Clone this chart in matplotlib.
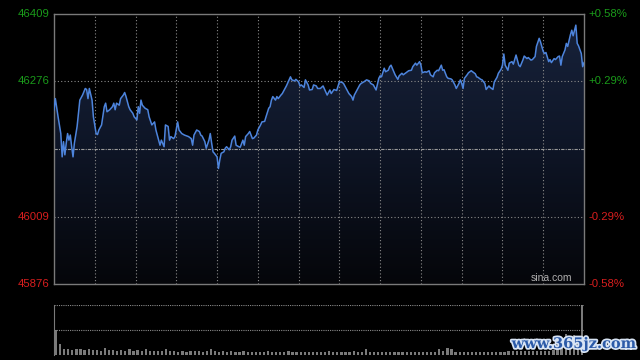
import matplotlib
matplotlib.use('Agg')
import matplotlib.pyplot as plt
import matplotlib.patheffects as pe
from matplotlib.colors import LinearSegmentedColormap
import numpy as np

# intraday index, minutes after the open
minutes = [0, 1, 3, 5, 6, 7, 8, 9, 10, 11, 12, 13, 14, 15, 17, 19, 21, 23, 24, 25,
           26, 28, 29, 31, 32, 33, 35, 37, 38, 39, 41, 43, 44, 45, 46, 48, 49, 51, 52, 53,
           55, 56, 58, 59, 61, 62, 63, 64, 65, 67, 69, 70, 72, 74, 75, 77, 78, 79, 81, 82,
           84, 85, 86, 88, 89, 91, 92, 94, 96, 99, 101, 102, 103, 105, 107, 108, 109, 111, 112, 114,
           115, 116, 117, 118, 120, 121, 122, 123, 125, 126, 127, 129, 130, 131, 133, 134, 136, 137, 139, 140,
           141, 143, 144, 146, 147, 149, 150, 152, 153, 155, 156, 158, 159, 160, 161, 163, 164, 165, 167, 168,
           170, 171, 173, 174, 175, 177, 178, 180, 181, 182, 184, 185, 187, 188, 190, 191, 193, 194, 196, 198,
           201, 203, 204, 206, 208, 210, 212, 213, 215, 217, 219, 220, 221, 223, 225, 226, 228, 230, 232, 233,
           235, 236, 237, 239, 240, 241, 243, 244, 246, 247, 248, 250, 251, 253, 254, 256, 257, 258, 260, 261,
           263, 264, 266, 267, 269, 270, 271, 273, 274, 276, 277, 279, 280, 282, 283, 285, 286, 287, 289, 290,
           292, 293, 295, 296, 298, 299, 300, 301, 302, 304, 305, 307, 308, 310, 311, 312, 314, 315, 317, 318,
           320, 321, 323, 324, 326, 327, 329, 330, 331, 332, 334, 335, 337, 338, 339, 340, 342, 343, 345, 346,
           348, 349, 351, 352, 354, 355, 357, 358, 360, 361, 362, 364, 365, 366, 368, 369, 371, 372, 373, 374,
           376, 377, 378, 380, 381, 382, 384, 385, 386, 388, 389, 390]
prices = [46220, 46242, 46206, 46173, 46127, 46157, 46131, 46154, 46173, 46160, 46170, 46147, 46127, 46154, 46187, 46239, 46249, 46262, 46260, 46242,
          46262, 46239, 46206, 46173, 46171, 46180, 46190, 46226, 46233, 46216, 46220, 46226, 46233, 46220, 46233, 46229, 46242, 46249, 46254, 46246,
          46226, 46220, 46213, 46206, 46200, 46226, 46213, 46239, 46229, 46223, 46220, 46206, 46190, 46196, 46180, 46160, 46150, 46160, 46147, 46190,
          46187, 46160, 46167, 46163, 46167, 46196, 46180, 46173, 46170, 46167, 46163, 46150, 46170, 46180, 46177, 46170, 46168, 46157, 46144, 46160,
          46173, 46154, 46137, 46134, 46127, 46104, 46121, 46134, 46137, 46144, 46147, 46141, 46147, 46160, 46168, 46150, 46147, 46146, 46160, 46150,
          46167, 46173, 46177, 46163, 46164, 46170, 46180, 46190, 46196, 46197, 46206, 46223, 46226, 46239, 46246, 46239, 46246, 46242, 46249, 46252,
          46262, 46267, 46279, 46285, 46279, 46277, 46280, 46275, 46267, 46269, 46264, 46279, 46269, 46259, 46260, 46269, 46267, 46262, 46262, 46267,
          46249, 46259, 46252, 46260, 46258, 46275, 46274, 46272, 46262, 46252, 46246, 46239, 46249, 46259, 46269, 46272, 46275, 46279, 46277, 46272,
          46269, 46264, 46259, 46282, 46287, 46285, 46302, 46295, 46298, 46305, 46308, 46295, 46289, 46280, 46287, 46292, 46289, 46291, 46295, 46297,
          46298, 46305, 46312, 46308, 46315, 46308, 46293, 46295, 46294, 46297, 46289, 46285, 46293, 46298, 46297, 46308, 46298, 46299, 46285, 46282,
          46281, 46279, 46269, 46262, 46272, 46279, 46272, 46262, 46282, 46289, 46293, 46297, 46295, 46291, 46285, 46284, 46280, 46279, 46272, 46260,
          46267, 46264, 46260, 46275, 46284, 46292, 46300, 46308, 46330, 46308, 46298, 46312, 46315, 46310, 46319, 46328, 46308, 46305, 46318, 46326,
          46321, 46323, 46318, 46319, 46325, 46345, 46361, 46354, 46335, 46331, 46333, 46315, 46319, 46313, 46321, 46319, 46325, 46326, 46308, 46325,
          46338, 46351, 46345, 46368, 46377, 46366, 46387, 46351, 46346, 46331, 46305, 46313]

prev_close = 46142.5
left_ticks = [46409, 46276, 46009, 45876]
right_labels = ['+0.58%', '+0.29%', '-0.29%', '-0.58%']
tick_colors = ['#1a9a1a', '#1a9a1a', '#d81e1e', '#d81e1e']

# volume, 3-minute buckets
volume = [50, 22, 12, 13, 11, 12, 13, 10, 12, 11, 10, 9, 14, 10, 11, 9, 10, 9, 12, 9,
          10, 8, 13, 9, 8, 9, 8, 13, 8, 9, 7, 8, 7, 8, 8, 9, 7, 8, 12, 8,
          7, 8, 7, 8, 7, 7, 8, 7, 7, 7, 7, 7, 8, 7, 6, 7, 7, 8, 7, 7,
          7, 7, 7, 7, 6, 7, 7, 8, 7, 7, 7, 7, 7, 8, 7, 7, 13, 7, 7, 7,
          7, 7, 7, 6, 7, 7, 7, 7, 7, 7, 7, 7, 7, 7, 13, 8, 14, 12, 7, 7,
          7, 7, 7, 7, 7, 7, 7, 7, 7, 7, 7, 9, 8, 9, 8, 9, 9, 8, 9, 9,
          9, 9, 10, 12, 30, 42, 26, 40, 36, 100]

plt.rcParams['font.family'] = ['Liberation Sans', 'DejaVu Sans']
fig = plt.figure(figsize=(6.4, 3.6), dpi=100, facecolor='black')

ax = fig.add_axes([54/640, 76/360, 530/640, 270/360])
ax.set_facecolor('black')
ax.set_xlim(0, 390)
ax.set_ylim(45876, 46409)

# gradient fill under the line
cmap = LinearSegmentedColormap.from_list('fade', ['#05060a', '#0e1526', '#18233c'])
grad = np.linspace(0, 1, 256).reshape(-1, 1)
img = ax.imshow(grad, cmap=cmap, aspect='auto', origin='lower',
                extent=[0, 390, 45876, 46409], zorder=1)
poly = ax.fill_between(minutes, prices, 45876, color='none', zorder=1)
img.set_clip_path(poly.get_paths()[0], transform=ax.transData)

for m in range(30, 390, 30):
    ax.axvline(m, color='#8a8a8a', lw=0.8, ls=(0, (1, 2)), zorder=2)
for v in [46276, 46009]:
    ax.axhline(v, color='#8a8a8a', lw=0.8, ls=(0, (1, 2)), zorder=2)
ax.axhline(prev_close, color='#9a9a9a', lw=0.8, ls=(0, (3, 1, 1, 1)), zorder=2)

ax.plot(minutes, prices, color='#4d84dc', lw=1.1, zorder=3)

for s in ax.spines.values():
    s.set_color('#7a7a7a')
    s.set_linewidth(1)
ax.set_xticks([])
ax.set_yticks([])

for v, lab, c in zip(left_ticks, right_labels, tick_colors):
    ax.text(-3, v, str(v), color=c, fontsize=8.2, ha='right', va='center')
    ax.text(393, v, lab, color=c, fontsize=8.2, ha='left', va='center')
ax.text(366, 45887, 'sina.com', color='#b0b0b0', fontsize=7.5, ha='center', va='center')

# volume panel
vax = fig.add_axes([54/640, 5/360, 530/640, 50/360])
vax.set_facecolor('black')
vax.set_xlim(0, 390)
vax.set_ylim(0, 100)
vol_x = [1.5 + 3 * i for i in range(len(volume))]
vax.bar(vol_x, volume, width=1.6, color='#7a7a7a', zorder=2)
vax.axhline(100, color='#8a8a8a', lw=0.8, ls=(0, (1, 1)))
vax.axhline(50, color='#8a8a8a', lw=0.8, ls=(0, (1, 1)))
for k in ['top', 'right', 'bottom']:
    vax.spines[k].set_visible(False)
vax.spines['left'].set_color('#7a7a7a')
vax.set_xticks([])
vax.set_yticks([])

fig.text(574/640, 16/360, 'www.365jz.com', color='#2b5aa8', fontsize=10.5, fontweight='bold',
         family='DejaVu Serif', ha='center', va='center',
         path_effects=[pe.withStroke(linewidth=2.5, foreground='#d8e4f4')])

fig.savefig('out.png', dpi=100, facecolor='black')
